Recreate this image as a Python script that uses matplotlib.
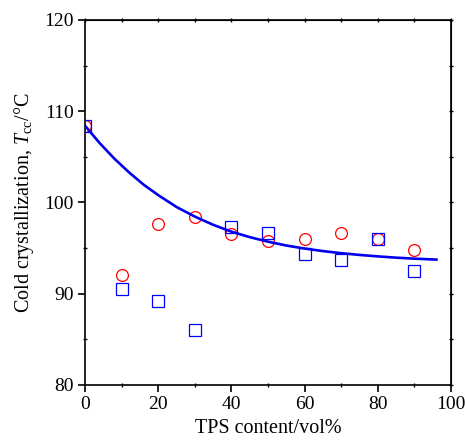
import matplotlib.pyplot as plt
from matplotlib.ticker import MultipleLocator

plt.rcParams['font.family'] = ['Liberation Serif', 'DejaVu Serif']
plt.rcParams['mathtext.fontset'] = 'custom'
plt.rcParams['mathtext.it'] = 'Liberation Serif:italic'
plt.rcParams['mathtext.rm'] = 'Liberation Serif'

# measured points
tps_content = [0, 10, 20, 30, 40, 50, 60, 70, 80, 90]
tcc_circles = [108.4, 92.0, 97.6, 98.4, 96.5, 95.8, 96.0, 96.7, 96.0, 94.8]
tcc_squares = [108.4, 90.5, 89.2, 86.0, 97.3, 96.7, 94.3, 93.7, 96.0, 92.5]

# fitted curve
fit_x = [0, 4, 8, 12, 16, 20, 25, 30, 35, 40, 45, 50, 55, 60, 65, 70, 75, 80, 85, 90, 96]
fit_y = [108.4, 106.5, 104.8, 103.3, 101.95, 100.8, 99.5, 98.45, 97.55, 96.8,
         96.2, 95.7, 95.28, 94.95, 94.67, 94.44, 94.25, 94.09, 93.95, 93.84, 93.74]

fig = plt.figure(figsize=(4.65, 4.44), dpi=100)
ax = fig.add_axes([0.183, 0.133, 0.787, 0.822])

ax.plot(tps_content, tcc_circles, 'o', mfc='none', mec='red', ms=8.5, mew=0.9, zorder=3)
ax.plot(tps_content, tcc_squares, 's', mfc='none', mec='blue', ms=8, mew=0.9, zorder=4)
ax.plot(fit_x, fit_y, '-', color='#0000ee', lw=1.9, zorder=5)

ax.set_xlim(0, 100)
ax.set_ylim(80, 120)
ax.xaxis.set_major_locator(MultipleLocator(20))
ax.xaxis.set_minor_locator(MultipleLocator(10))
ax.yaxis.set_major_locator(MultipleLocator(10))
ax.yaxis.set_minor_locator(MultipleLocator(5))

for s in ax.spines.values():
    s.set_linewidth(1.2)
ax.tick_params(which='major', direction='out', length=5, width=1.2, labelsize=14, pad=3)
ax.tick_params(which='minor', direction='inout', length=3, width=1.0)

# ticks on top and right, no labels
top = ax.secondary_xaxis('top')
top.xaxis.set_major_locator(MultipleLocator(10))
top.tick_params(direction='inout', length=3, width=1.0, labeltop=False)
right = ax.secondary_yaxis('right')
right.yaxis.set_major_locator(MultipleLocator(5))
right.tick_params(direction='inout', length=3, width=1.0, labelright=False)

ax.set_xlabel('TPS content/vol%', fontsize=14.5, labelpad=4)
ax.set_ylabel(r'Cold crystallization, $T_{\mathrm{cc}}$/°C', fontsize=14.5, labelpad=6)

plt.savefig('out.png', dpi=100)
